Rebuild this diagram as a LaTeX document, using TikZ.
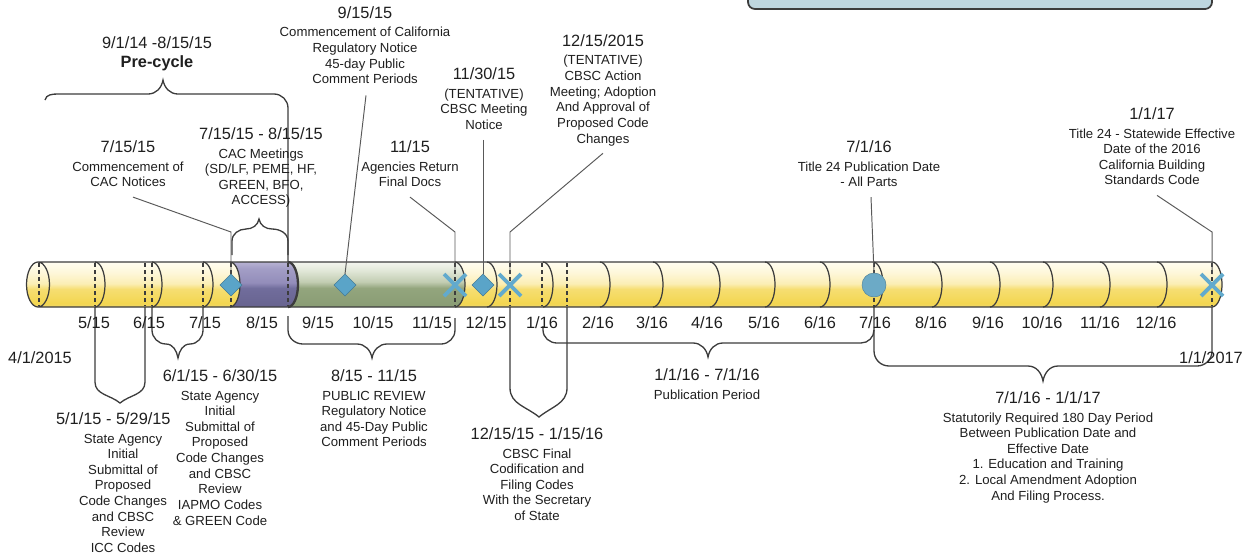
\documentclass[tikz,border=0pt]{standalone}
\usepackage{fontspec}
\setmainfont{Liberation Sans}
\usetikzlibrary{shapes.geometric,shapes.misc}

\definecolor{ink}{HTML}{1F1F1F}
\definecolor{edge}{HTML}{3C3C3C}
\definecolor{boxfill}{HTML}{BED6DF}
\definecolor{markblue}{HTML}{5AA4C8}
\definecolor{xblue}{HTML}{62AACD}
\definecolor{discblue}{HTML}{6CAAC6}
\definecolor{yelA}{HTML}{EFD66E}
\definecolor{yelB}{HTML}{F3D650}
\definecolor{yelC}{HTML}{F6DE72}
\definecolor{yelD}{HTML}{FBEEB5}
\definecolor{yelE}{HTML}{FEF7D9}
\definecolor{yelF}{HTML}{FFFDF1}
\definecolor{purA}{HTML}{67638F}
\definecolor{purB}{HTML}{716D9C}
\definecolor{purC}{HTML}{938DBA}
\definecolor{purD}{HTML}{A39EC6}
\definecolor{purE}{HTML}{B7B2D3}
\definecolor{grnA}{HTML}{899C74}
\definecolor{grnB}{HTML}{93A57D}
\definecolor{grnC}{HTML}{C2CDB2}
\definecolor{grnD}{HTML}{E2E8D9}
\definecolor{grnE}{HTML}{F3F5EF}

\pgfdeclareverticalshading{yellowtube}{100bp}{color(0bp)=(yelA); color(25bp)=(yelA); color(29bp)=(yelB); color(45bp)=(yelC); color(51bp)=(yelD); color(63bp)=(yelE); color(75bp)=(yelF); color(100bp)=(yelF)}
\pgfdeclareverticalshading{purpletube}{100bp}{color(0bp)=(purA); color(25bp)=(purA); color(46bp)=(purB); color(52bp)=(purC); color(68bp)=(purD); color(75bp)=(purE); color(100bp)=(purE)}
\pgfdeclareverticalshading{greentube}{100bp}{color(0bp)=(grnA); color(25bp)=(grnA); color(46bp)=(grnB); color(53bp)=(grnC); color(66bp)=(grnD); color(75bp)=(grnE); color(100bp)=(grnE)}

\newcommand\datehead[1]{{\fontsize{9.3}{11}\selectfont #1}\\[1.8pt]}

\tikzset{
  rim/.style={draw=edge, line width=0.7pt},
  hidden/.style={draw=edge, line width=0.6pt, dash pattern=on 2.2pt off 1.8pt},
  brace/.style={draw=edge, line width=0.75pt},
  leader/.style={draw=edge!85, line width=0.55pt},
  txt/.style={align=center, inner sep=0pt, anchor=north, text=ink, font=\fontsize{7.5}{8.9}\selectfont},
  month/.style={inner sep=0pt, text=ink, font=\fontsize{9.3}{11}\selectfont},
  gem/.style={diamond, aspect=1, inner sep=0pt, outer sep=0pt, minimum size=0.44cm, fill=markblue, draw=markblue!75!black, line width=0.3pt},
  xmark/.style={cross out, draw=xblue, line width=2.2pt, inner sep=0pt, outer sep=0pt, minimum size=0.44cm},
  disc/.style={circle, fill=discblue, draw=discblue!80!black, line width=0.3pt, inner sep=0pt, outer sep=0pt, minimum size=0.48cm}
}

\begin{document}
\begin{tikzpicture}[x=0.02cm,y=0.02cm]
\useasboundingbox (0,0) rectangle (1246,-559);
\clip (0,0) rectangle (1246,-559);

% box at the top, cut off
\draw[draw=edge,line width=1pt,fill=boxfill,rounded corners=4pt] (748,-9) rectangle (1212,20);

% tube
\shade[shading=yellowtube] (38,-262) -- (230,-262) arc[start angle=90,end angle=-90,x radius=0.2cm,y radius=0.45cm]
      -- (38,-307) arc[start angle=270,end angle=90,x radius=0.23cm,y radius=0.45cm] -- cycle;
\shade[shading=purpletube] (230,-262) arc[start angle=90,end angle=-90,x radius=0.2cm,y radius=0.45cm]
      -- (288,-307) arc[start angle=-90,end angle=90,x radius=0.2cm,y radius=0.45cm] -- cycle;
\shade[shading=greentube] (288,-262) arc[start angle=90,end angle=-90,x radius=0.2cm,y radius=0.45cm]
      -- (455,-307) arc[start angle=-90,end angle=90,x radius=0.2cm,y radius=0.45cm] -- cycle;
\shade[shading=yellowtube] (455,-262) arc[start angle=90,end angle=-90,x radius=0.2cm,y radius=0.45cm]
      -- (1212,-307) arc[start angle=-90,end angle=90,x radius=0.2cm,y radius=0.45cm] -- cycle;

\draw[rim] (38,-262) -- (1212,-262) (38,-307) -- (1212,-307)
      (38,-284.5) ellipse [x radius=0.23cm, y radius=0.45cm];
\foreach \c in {95,152,203,230,288,455,487,543,600,653,710,765,820,873,932,990,1043,1100,1157,1212}
  \draw[rim] (\c,-262) arc[start angle=90,end angle=-90,x radius=0.2cm,y radius=0.45cm];
\draw[rim,line width=1.3pt] (288,-262) arc[start angle=90,end angle=-90,x radius=0.2cm,y radius=0.45cm];
\foreach \c in {39,95,145,152,203,231,288,455,510,542,567,874,1212}
  \draw[hidden] (\c,-263) -- (\c,-306);

% braces above
\draw[brace] (45,-100) to[out=80,in=180] (58,-94) -- (148,-94) to[out=0,in=-100] (163,-80)
      to[out=-80,in=180] (178,-94) -- (274,-94) to[out=0,in=90] (288,-108) -- (288,-262);
\draw[brace] (232,-255) -- (232,-241) to[out=90,in=180] (246,-229) to[out=0,in=-100] (259,-219)
      to[out=-80,in=180] (272,-229) to[out=0,in=90] (288,-241) -- (288,-255);

% braces below
\draw[brace] (95,-307) -- (95,-382) to[out=-90,in=140] (120,-403) to[out=40,in=-90] (145,-382) -- (145,-307);
\draw[brace] (152,-307) -- (152,-330) to[out=-90,in=180] (166,-344) to[out=0,in=100] (178,-358)
      to[out=80,in=180] (190,-344) to[out=0,in=-90] (203,-330) -- (203,-307);
\draw[brace] (288,-316) -- (288,-330) to[out=-90,in=180] (303,-344) -- (357,-344) to[out=0,in=100] (372,-358)
      to[out=80,in=180] (387,-344) -- (441,-344) to[out=0,in=-90] (455,-330) -- (455,-318);
\draw[brace] (510,-307) -- (510,-388) to[out=-90,in=140] (539,-417) to[out=40,in=-90] (567,-388) -- (567,-307);
\draw[brace] (543,-326) -- (543,-330) to[out=-90,in=180] (557,-343) -- (693,-343) to[out=0,in=100] (708,-357)
      to[out=80,in=180] (723,-343) -- (861,-343) to[out=0,in=-90] (874,-330);
\draw[brace] (874,-307) -- (874,-351) to[out=-90,in=180] (889,-366) -- (1028,-366) to[out=0,in=100] (1043,-381)
      to[out=80,in=180] (1058,-366) -- (1197,-366) to[out=0,in=-90] (1212,-351) -- (1212,-307);

% markers
\node[gem] (d715) at (231,-285) {};
\node[gem] (d915) at (345,-285) {};
\node[xmark] (x1115) at (455,-285) {};
\node[gem] (d1130) at (483,-285) {};
\node[xmark] (x1215) at (510,-285) {};
\node[disc] (c716) at (874,-285) {};
\node[xmark] (x117) at (1212,-285) {};

% months
\foreach \x/\mo/\yr in {94/5/15,149/6/15,205/7/15,262/8/15,318/9/15,373/10/15,432/11/15,486/12/15,
    542/1/16,598/2/16,652/3/16,707/4/16,764/5/16,820/6/16,875/7/16,931/8/16,988/9/16,1042/10/16,1100/11/16,1156/12/16}
  \node[month] (mon\mo-\yr) at (\x,-323) {\mo/\yr};
\node[month] (start) at (40,-358) {4/1/2015};
\node[month] (finish) at (1211,-358) {1/1/2017};

% labels above
\node[txt, font=\fontsize{9.3}{10.8}\selectfont] (pre) at (157,-36) {9/1/14 -8/15/15\\\textbf{Pre-cycle}};
\node[txt] (cacN) at (128,-140) {\datehead{7/15/15}Commencement of\\CAC Notices};
\node[txt] (cacM) at (261,-127) {\datehead{7/15/15 - 8/15/15}CAC Meetings\\(SD/LF, PEME, HF,\\GREEN, BFO,\\ACCESS)};
\node[txt] (reg) at (365,-6) {\datehead{9/15/15}Commencement of California\\Regulatory Notice\\45-day Public\\Comment Periods};
\node[txt] (agn) at (410,-140) {\datehead{11/15}Agencies Return\\Final Docs};
\node[txt] (mtg) at (484,-67) {\datehead{11/30/15}(TENTATIVE)\\CBSC Meeting\\Notice};
\node[txt] (act) at (603,-34) {\datehead{12/15/2015}(TENTATIVE)\\CBSC Action\\Meeting; Adoption\\And Approval of\\Proposed Code\\Changes};
\node[txt] (pub) at (869,-140) {\datehead{7/1/16}Title 24 Publication Date\\- All Parts};
\node[txt] (eff) at (1152,-107) {\datehead{1/1/17}Title 24 - Statewide Effective\\Date of the 2016\\California Building\\Standards Code};

% labels below
\node[txt] (sub1) at (123,-412) {\datehead{5/1/15 - 5/29/15\hspace*{11pt}}State Agency\\Initial\\Submittal of\\Proposed\\Code Changes\\and CBSC\\Review\\ICC Codes};
\node[txt] (sub2) at (220,-369) {\datehead{6/1/15 - 6/30/15}State Agency\\Initial\\Submittal of\\Proposed\\Code Changes\\and CBSC\\Review\\IAPMO Codes\\\& GREEN Code};
\node[txt] (rev) at (374,-369) {\datehead{8/15 - 11/15}PUBLIC REVIEW\\Regulatory Notice\\and 45-Day Public\\Comment Periods};
\node[txt] (cod) at (537,-427) {\datehead{12/15/15 - 1/15/16}CBSC Final\\Codification and\\Filing Codes\\With the Secretary\\of State};
\node[txt] (pubp) at (707,-368) {\datehead{1/1/16 - 7/1/16}Publication Period};
\node[txt] (stat) at (1048,-391) {\datehead{7/1/16 - 1/1/17}Statutorily Required 180 Day Period\\Between Publication Date and\\Effective Date\\1. Education and Training\\2. Local Amendment Adoption\\And Filing Process.};

% leaders
\draw[leader] (cacN.south) ++(5,-10) -- (d715 |- 0,-232) -- (d715.north);
\draw[leader] (reg.south) ++(1,-11) -- (d915.north);
\draw[leader] (agn.south) ++(0,-10) -- (x1115 |- 0,-232) -- (x1115.north);
\draw[leader] (mtg.south) ++(-1,-10) -- (d1130.north);
\draw[leader] (act.south) ++(0,-7) -- (x1215 |- 0,-232) -- (x1215.north);
\draw[leader] (pub.south) ++(2,-10) -- (c716.north);
\draw[leader] (eff.south) ++(5,-10) -- (x117 |- 0,-232) -- (x117.north);

\end{tikzpicture}
\end{document}
